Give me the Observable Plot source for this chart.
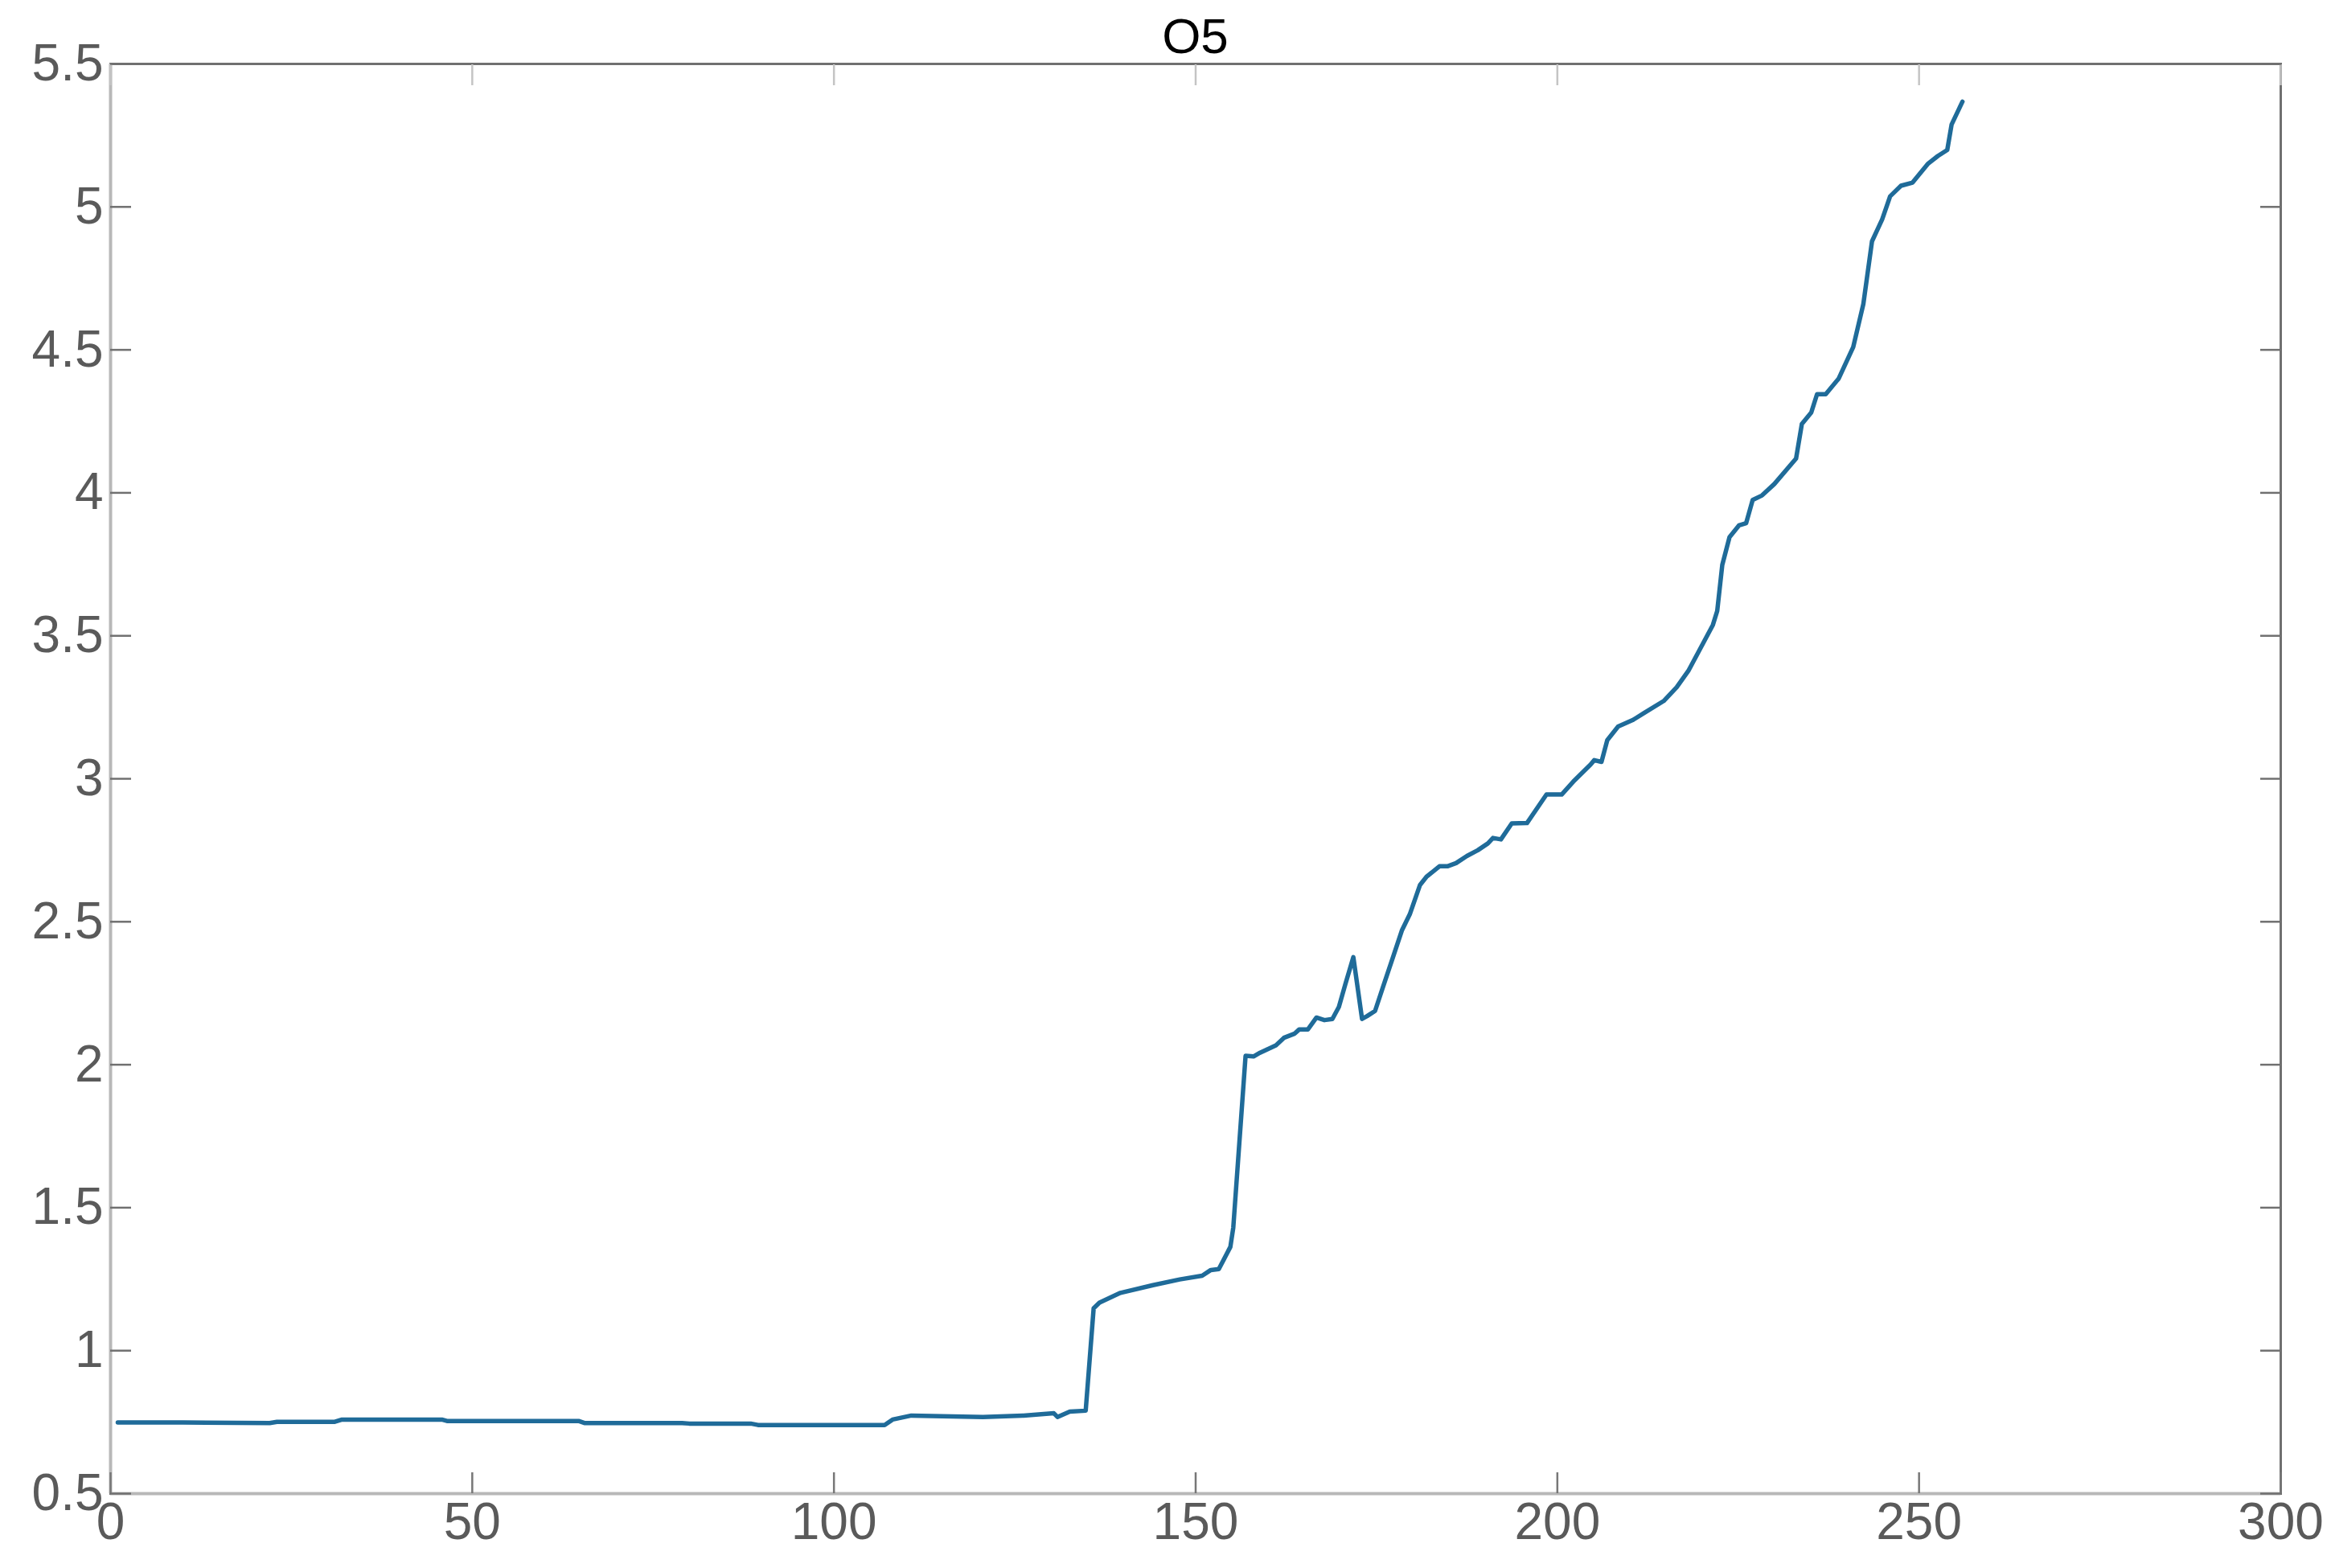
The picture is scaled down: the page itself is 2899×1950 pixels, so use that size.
<!DOCTYPE html>
<html><head><meta charset="utf-8">
<script src="https://cdn.jsdelivr.net/npm/d3@7"></script>
<script src="https://cdn.jsdelivr.net/npm/@observablehq/plot@0.6"></script>
<style>
html,body{margin:0;padding:0;background:#fff;overflow:hidden;}
#wrap{position:relative;width:2899px;height:1950px;}
#title{position:absolute;left:137px;width:2699px;top:14px;text-align:center;font-family:"Liberation Sans",Arial,sans-serif;font-size:62px;line-height:62px;color:#000;}
</style></head><body><div id="wrap"><div id="title">O5</div></div>
<script>
const xValues = [1,10,22,23,31,32,45.8,46.5,64.7,65.5,79,80,88.5,89.5,107,108.1,110.7,120.6,126.2,130.4,130.9,132.6,134.8,135.9,136.7,139.6,144.1,147.8,150.9,152.1,153.2,154.8,155.2,156.9,158.0,158.9,161.1,162.2,163.7,164.3,165.5,166.7,167.8,168.9,169.8,170.7,171.8,173.0,173.7,174.8,175.9,177.4,178.5,179.6,181.0,181.9,183.7,184.8,186.0,187.5,189.0,190.4,191.1,192.2,193.7,195.8,198.5,200.6,202.2,204.6,205.1,206.1,206.9,208.4,210.4,212.0,214.7,216.5,218.1,221.5,222.1,222.8,223.8,225.1,226.1,227.0,228.3,230.0,233.0,233.8,235.1,235.9,237.1,238.9,240.9,242.3,243.5,244.9,246.0,247.5,249.1,251.2,252.6,253.9,254.5,256.0];
const yValues = [0.749,0.749,0.747,0.751,0.751,0.759,0.759,0.754,0.754,0.747,0.747,0.745,0.745,0.740,0.740,0.759,0.773,0.768,0.773,0.781,0.768,0.787,0.790,1.148,1.168,1.202,1.229,1.249,1.262,1.282,1.285,1.363,1.43,2.031,2.029,2.042,2.068,2.094,2.109,2.123,2.123,2.165,2.156,2.16,2.202,2.282,2.376,2.16,2.17,2.188,2.272,2.385,2.469,2.526,2.628,2.657,2.694,2.694,2.705,2.73,2.75,2.774,2.793,2.788,2.844,2.845,2.945,2.945,2.99,3.05,3.065,3.059,3.135,3.183,3.205,3.23,3.272,3.32,3.377,3.538,3.587,3.748,3.845,3.886,3.894,3.975,3.991,4.031,4.12,4.241,4.281,4.345,4.345,4.40,4.51,4.66,4.88,4.956,5.037,5.074,5.085,5.15,5.178,5.199,5.288,5.368];
const xTicks = [0,50,100,150,200,250,300];
const yTicks = [0.5,1,1.5,2,2.5,3,3.5,4,4.5,5,5.5];
const xDomain = [0,300];
const yDomain = [0.5,5.5];

const data = xValues.map((x,i)=>({x, y:yValues[i]}));
const fmt = d => String(d);
const blank = () => "";

const chart = Plot.plot({
  width: 2899, height: 1950,
  marginLeft: 137, marginRight: 63, marginTop: 79, marginBottom: 93,
  style: {fontFamily: "'Liberation Sans', Arial, sans-serif", fontSize: "64px", background: "#fff"},
  x: {domain: xDomain, label: null},
  y: {domain: yDomain, label: null},
  marks: [
    Plot.frame({stroke: "#707070", strokeWidth: 3}),
    Plot.ruleX([xDomain[0]], {stroke: "#b8b8b8", strokeWidth: 4}),
    Plot.ruleY([yDomain[0]], {stroke: "#b8b8b8", strokeWidth: 4}),
    Plot.axisX(xTicks, {anchor: "bottom", label: null, tickSize: -26, tickFormat: blank, stroke: "#777", strokeWidth: 2.5}),
    Plot.axisX(xTicks, {anchor: "top", label: null, tickSize: -26, tickFormat: blank, stroke: "#c4c4c4", strokeWidth: 2.5}),
    Plot.axisY(yTicks, {anchor: "left", label: null, tickSize: -26, tickFormat: blank, stroke: "#707070", strokeWidth: 2.5}),
    Plot.axisY(yTicks, {anchor: "right", label: null, tickSize: -26, tickFormat: blank, stroke: "#707070", strokeWidth: 2.5}),
    Plot.axisX(xTicks, {anchor: "bottom", label: null, tickSize: 0, tickPadding: 11, tickFormat: fmt, color: "#5a5a5a", fontSize: 64}),
    Plot.axisY(yTicks, {anchor: "left", label: null, tickSize: 0, tickPadding: 9, tickFormat: fmt, color: "#5a5a5a", fontSize: 64}),
    Plot.line(data, {x: "x", y: "y", stroke: "#1f6b99", strokeWidth: 5.5, strokeLinejoin: "round"})
  ]
});
document.getElementById("wrap").prepend(chart);
</script>
</body></html>
